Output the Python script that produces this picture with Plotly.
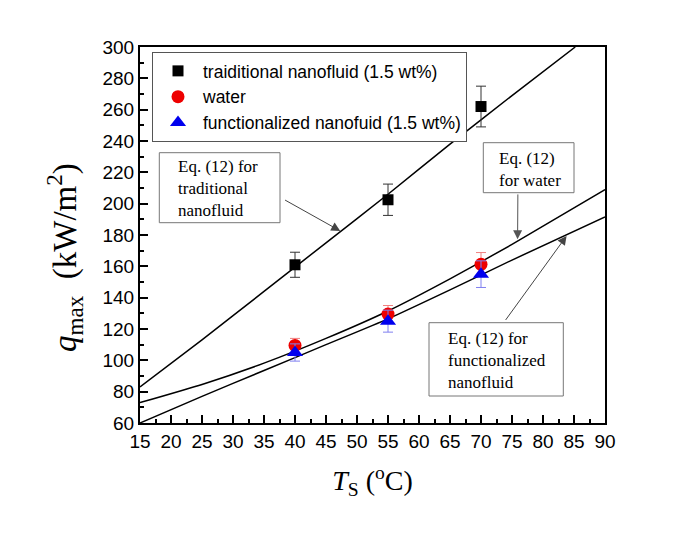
import plotly.graph_objects as go

# ---------------- data ----------------
T_exp = [40, 55, 70]
q_trad = [161, 202.5, 262]
err_trad = [8, 10, 13]
q_water = [109.5, 129.5, 161.3]
err_water = [4.5, 5.5, 7.5]
q_func = [105, 125, 155]
err_func = [5.5, 7, 8.5]

# Eq. (12) curves
T_fit_trad = [15, 25, 35, 45, 55, 65, 75, 85.2]
q_fit_trad = [83, 113, 144, 175, 206, 238, 269, 300]
T_fit_water = [15, 25, 35, 45, 55, 65, 75, 90]
q_fit_water = [73, 84.6, 98.2, 114, 131.5, 152, 174, 209]
T_fit_func = [15, 25, 35, 45, 55, 65, 75, 90]
q_fit_func = [60, 77, 93.5, 110, 126.5, 145, 164, 191.5]

legend_names = ["traiditional nanofluid (1.5 wt%)", "water", "functionalized nanofuid (1.5 wt%)"]

x_ticks = list(range(15, 95, 5))
y_ticks = list(range(60, 320, 20))

SANS = "Arial, Liberation Sans, sans-serif"
SERIF = "Times New Roman, Liberation Serif, serif"

fig = go.Figure()

for tx, qy in [(T_fit_trad, q_fit_trad), (T_fit_water, q_fit_water), (T_fit_func, q_fit_func)]:
    fig.add_trace(go.Scatter(x=tx, y=qy, mode="lines", line=dict(color="black", width=1.5, shape="spline", smoothing=0.5),
                             showlegend=False, hoverinfo="skip"))

fig.add_trace(go.Scatter(x=T_exp, y=q_trad, mode="markers", name=legend_names[0],
                         marker=dict(symbol="square", size=11, color="black"),
                         error_y=dict(type="data", array=err_trad, color="#333333", thickness=1, width=5)))
fig.add_trace(go.Scatter(x=T_exp, y=q_water, mode="markers", name=legend_names[1],
                         marker=dict(symbol="circle", size=13, color="#ee0000"),
                         error_y=dict(type="data", array=err_water, color="#f08080", thickness=1, width=5)))
fig.add_trace(go.Scatter(x=T_exp, y=q_func, mode="markers", name=legend_names[2],
                         marker=dict(symbol="triangle-up", size=14, color="#0000ee"),
                         error_y=dict(type="data", array=err_func, color="#8080f0", thickness=1, width=5)))

# reference plot-area pixel frame
L, T = 140, 46
pw, ph = 465, 376
W, H = 685, 537
# the page adds an 8px offset; compensate in margins
ML, MT = L - 8, T - 7

def px(xp):
    return (xp - L) / pw

def py(yp):
    return (T + ph - yp) / ph

shapes = []
for (x0, y0, x1, y1) in [(159.3, 151.7, 280, 221.7), (483.3, 141.7, 574, 191.7), (429, 321.7, 563.3, 395)]:
    shapes.append(dict(type="rect", xref="paper", yref="paper", x0=px(x0), x1=px(x1), y0=py(y1), y1=py(y0),
                       line=dict(color="#777777", width=1), fillcolor="white", layer="above"))

annotations = [
    dict(xref="paper", yref="paper", x=px(175.5), y=py(187), xanchor="left", yanchor="middle", align="left",
         text="Eq. (12) for<br>traditional<br>nanofluid", showarrow=False, font=dict(family=SERIF, size=17, color="black")),
    dict(xref="paper", yref="paper", x=px(496.5), y=py(168.5), xanchor="left", yanchor="middle", align="left",
         text="Eq. (12)<br>for water", showarrow=False, font=dict(family=SERIF, size=17, color="black")),
    dict(xref="paper", yref="paper", x=px(445.5), y=py(359), xanchor="left", yanchor="middle", align="left",
         text="Eq. (12) for<br>functionalized<br>nanofluid", showarrow=False, font=dict(family=SERIF, size=17, color="black")),
    dict(x=47.3, y=182.6, xref="x", yref="y", text="", showarrow=True, ax=-56.7, ay=-31.7,
         arrowhead=2, arrowsize=1.8, arrowwidth=1, arrowcolor="#444444"),
    dict(x=75.9, y=177.3, xref="x", yref="y", text="", showarrow=True, ax=0.3, ay=-46.3,
         arrowhead=2, arrowsize=1.8, arrowwidth=1, arrowcolor="#555555"),
    dict(x=83.8, y=179.4, xref="x", yref="y", text="", showarrow=True, ax=-62, ay=85.5,
         arrowhead=2, arrowsize=1.8, arrowwidth=1, arrowcolor="#444444"),
    # y axis title
    dict(xref="paper", yref="paper", x=px(64), y=py(257), xanchor="center", yanchor="middle",
         textangle=-90, showarrow=False,
         text="<i>q</i><sub>max</sub>  (kW/m<sup>2</sup>)", font=dict(family=SERIF, size=33, color="black")),
]

fig.update_layout(
    width=W, height=H,
    margin=dict(l=ML, r=W - ML - pw, t=MT, b=H - MT - ph),
    paper_bgcolor="white", plot_bgcolor="white",
    font=dict(family=SANS, size=19, color="black"),
    shapes=shapes, annotations=annotations,
    legend=dict(x=px(152), y=py(51), xanchor="left", yanchor="top", bgcolor="white",
                bordercolor="#555555", borderwidth=1, font=dict(family=SANS, size=17.5),
                tracegroupgap=0, itemwidth=40),
)

fig.update_xaxes(range=[15, 90], tickvals=x_ticks, ticktext=[str(v) for v in x_ticks],
                 showline=True, linecolor="black", linewidth=2, mirror=True,
                 ticks="inside", ticklen=8, tickwidth=1.5, tickcolor="black",
                 minor=dict(ticks="inside", ticklen=4, dtick=2.5, tick0=15, tickcolor="black", tickwidth=1.5),
                 showgrid=False, zeroline=False, tickfont=dict(family=SANS, size=19),
                 title=dict(text="<i>T</i><sub>S</sub> (<sup>o</sup>C)", font=dict(family=SERIF, size=28), standoff=20))
fig.update_yaxes(range=[60, 300], tickvals=y_ticks, ticktext=[str(v) for v in y_ticks],
                 showline=True, linecolor="black", linewidth=2, mirror=True,
                 ticks="inside", ticklen=8, tickwidth=1.5, tickcolor="black",
                 minor=dict(ticks="inside", ticklen=4, dtick=10, tick0=60, tickcolor="black", tickwidth=1.5),
                 showgrid=False, zeroline=False, tickfont=dict(family=SANS, size=19))

fig.write_html("out.html")
